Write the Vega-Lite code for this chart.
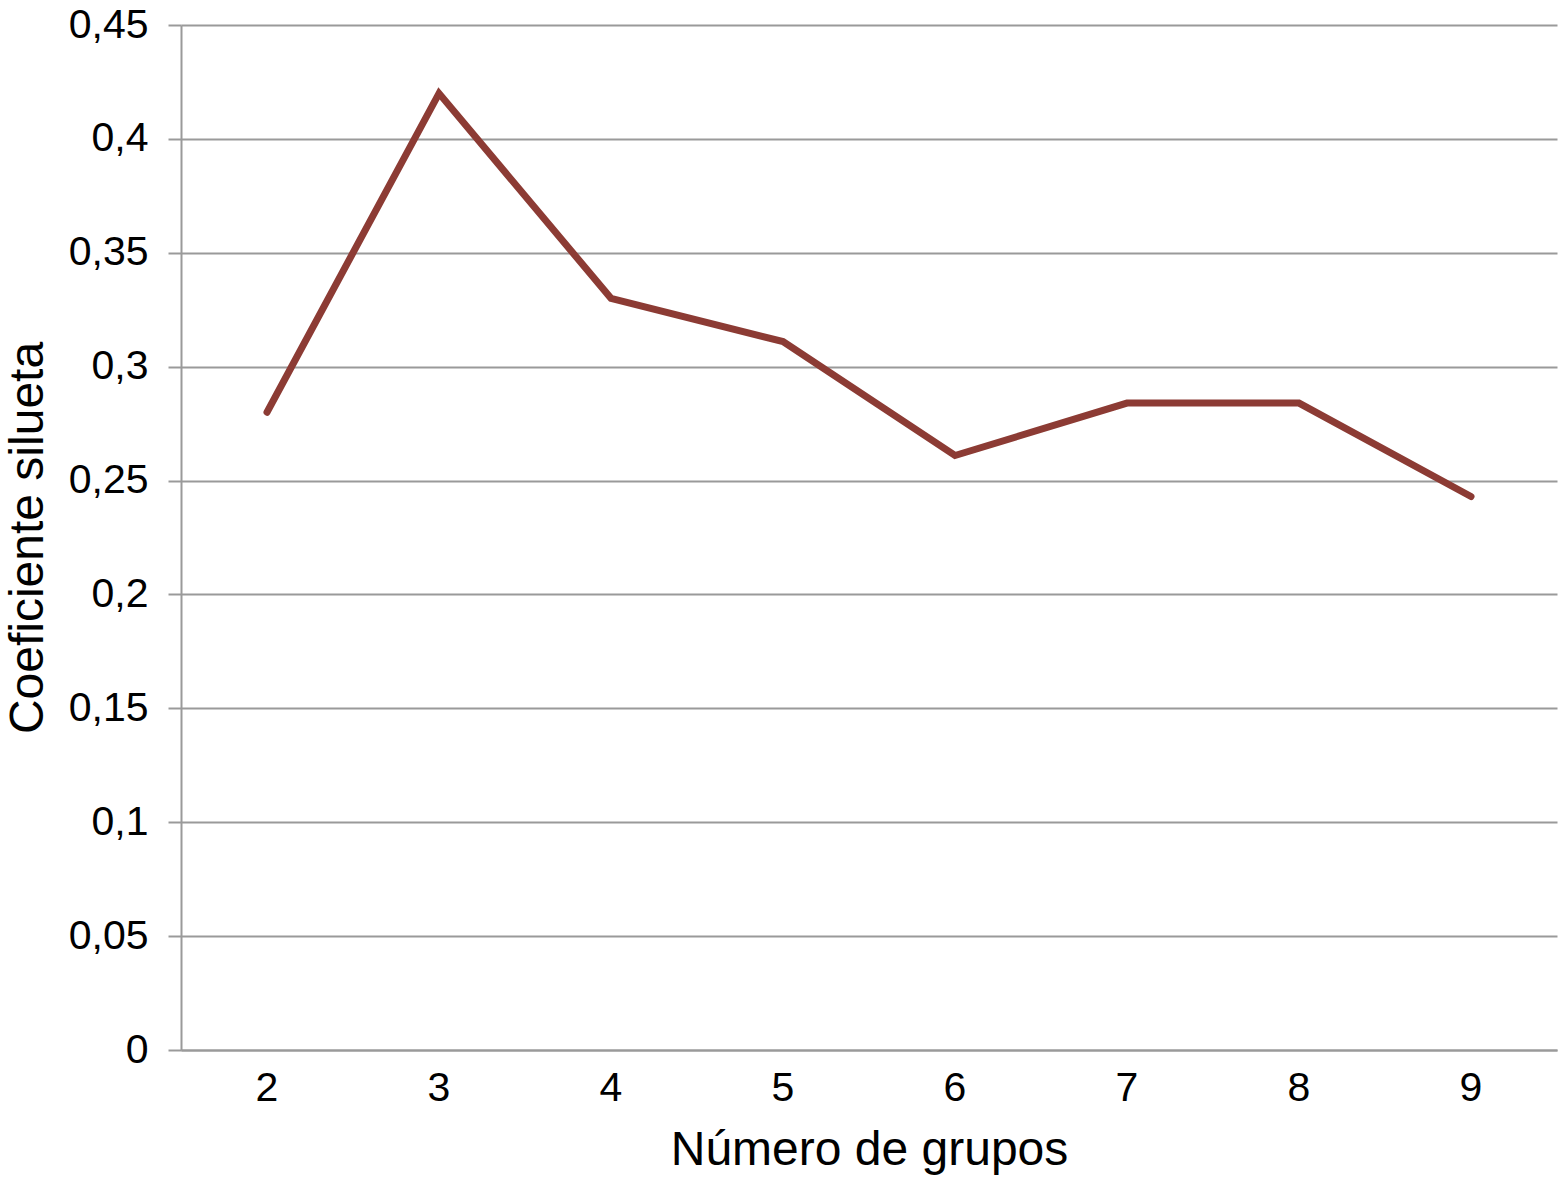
{
  "$schema": "https://vega.github.io/schema/vega-lite/v6.json",
  "width": 1376,
  "height": 1025,
  "autosize": {"type": "none"},
  "padding": {"left": 181, "top": 25, "right": 9, "bottom": 129},
  "background": "white",
  "config": {
    "view": {"stroke": null},
    "font": "Liberation Sans",
    "axis": {
      "labelFont": "Liberation Sans",
      "titleFont": "Liberation Sans",
      "labelColor": "#000000",
      "titleColor": "#000000",
      "titleFontWeight": "normal",
      "domainColor": "#9a9a9a",
      "domainWidth": 2,
      "tickColor": "#9a9a9a",
      "tickWidth": 2,
      "gridColor": "#9a9a9a",
      "gridWidth": 2
    }
  },
  "data": {
    "values": [
      {"grupos": "2", "coef": 0.280},
      {"grupos": "3", "coef": 0.420},
      {"grupos": "4", "coef": 0.330},
      {"grupos": "5", "coef": 0.311},
      {"grupos": "6", "coef": 0.261},
      {"grupos": "7", "coef": 0.284},
      {"grupos": "8", "coef": 0.284},
      {"grupos": "9", "coef": 0.243}
    ]
  },
  "mark": {"type": "line", "color": "#8c3b34", "strokeWidth": 7, "strokeCap": "round", "strokeJoin": "miter"},
  "encoding": {
    "x": {
      "field": "grupos",
      "type": "ordinal",
      "sort": null,
      "scale": {"type": "band", "paddingInner": 0, "paddingOuter": 0},
      "axis": {
        "title": "Número de grupos",
        "labelAngle": 0,
        "labelFontSize": 41,
        "titleFontSize": 48,
        "ticks": false,
        "grid": false,
        "labelPadding": 18,
        "titlePadding": 18
      }
    },
    "y": {
      "field": "coef",
      "type": "quantitative",
      "scale": {"domain": [0, 0.45], "nice": false, "zero": true},
      "axis": {
        "title": "Coeficiente silueta",
        "values": [0, 0.05, 0.1, 0.15, 0.2, 0.25, 0.3, 0.35, 0.4, 0.45],
        "labelExpr": "replace(format(datum.value, '.2~f'), '.', ',')",
        "labelFontSize": 41,
        "titleFontSize": 48,
        "tickSize": 13,
        "labelPadding": 20,
        "titlePadding": 16,
        "grid": true
      }
    }
  }
}
